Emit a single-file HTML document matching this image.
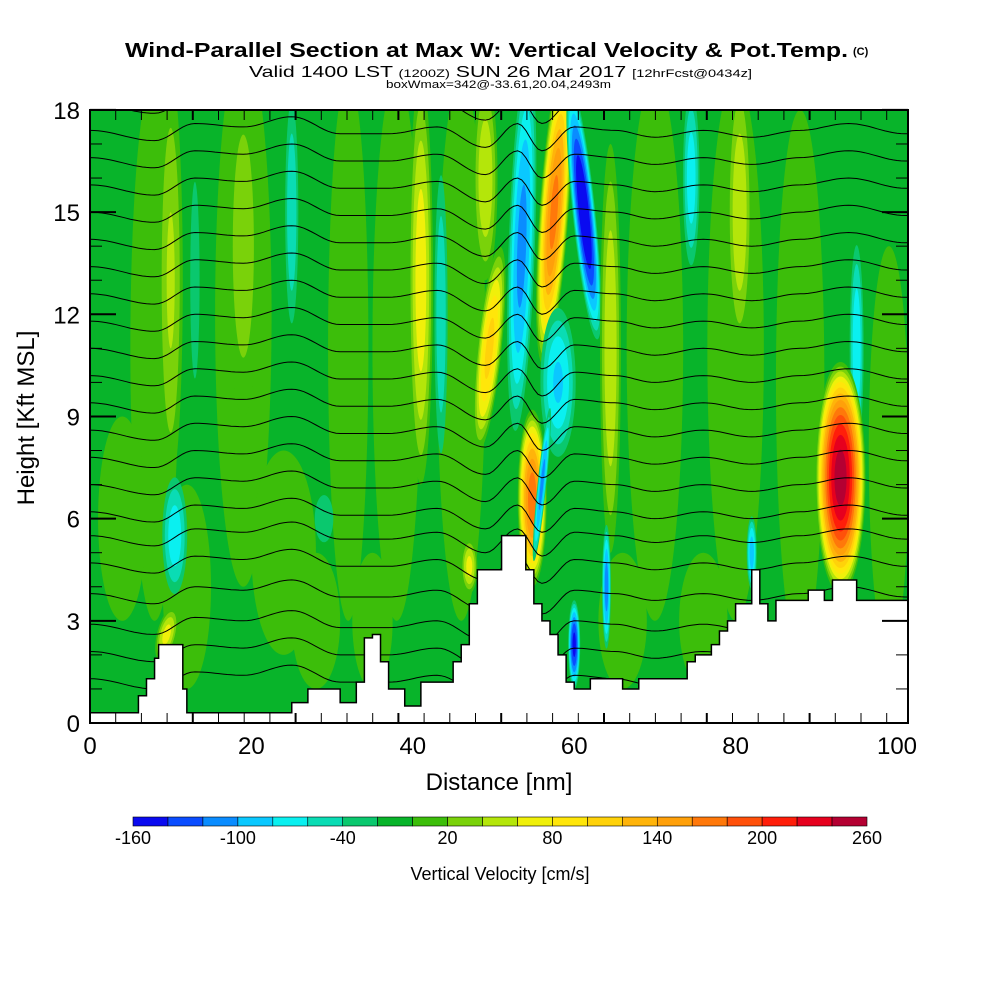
<!DOCTYPE html>
<html><head><meta charset="utf-8"><style>
html,body{margin:0;padding:0;background:#fff;}
svg{display:block;font-family:"Liberation Sans",sans-serif;}
</style></head><body>
<svg id="chart" width="1000" height="1000" viewBox="0 0 1000 1000">
<rect width="1000" height="1000" fill="#fff"/>
<text x="125" y="57" font-size="20" font-weight="bold" textLength="723" lengthAdjust="spacingAndGlyphs">Wind-Parallel Section at Max W: Vertical Velocity &amp; Pot.Temp.</text>
<text x="853" y="55" font-size="11" font-weight="bold">(C)</text>
<text x="249" y="77" font-size="16" textLength="503" lengthAdjust="spacingAndGlyphs">Valid 1400 LST <tspan font-size="11">(1200Z)</tspan> SUN 26 Mar 2017 <tspan font-size="11">[12hrFcst@0434z]</tspan></text>
<text x="386" y="88" font-size="11" textLength="225" lengthAdjust="spacingAndGlyphs">boxWmax=342@-33.61,20.04,2493m</text>
<defs><clipPath id="plotclip"><rect x="90" y="110" width="818" height="613"/></clipPath></defs>
<g id="field" clip-path="url(#plotclip)"></g>
<g id="contours" clip-path="url(#plotclip)"></g>
<g id="terrain" clip-path="url(#plotclip)"></g>
<g id="axes"></g>
<g id="colorbar"></g>
<text x="499" y="790" font-size="24" text-anchor="middle">Distance [nm]</text>
<text transform="translate(34,418) rotate(-90)" font-size="24" text-anchor="middle">Height [Kft MSL]</text>
<text x="500" y="880" font-size="18" text-anchor="middle">Vertical Velocity [cm/s]</text>
</svg>
<script>
// ---- data ----
const binLevels = [-160,-140,-120,-100,-80,-60,-40,-20,0,20,40,60,80,100,120,140,160,180,200,220,240,260];
const binColors = ["#0a0af0","#0a4cff","#0a8cff","#0ac8ff","#0af0f0","#0adcb4","#0ac86e","#08b42a","#3cbe0a","#7ad20a","#b4e60a","#f0f00a","#ffe60a","#ffd20a","#ffb40a","#ffa00a","#ff780a","#ff500a","#ff1e0a","#e6001e","#b40032"];
const colorbarLabels = [-160,-100,-40,20,80,140,200,260];
const xTicks = [0,20,40,60,80,100];
const yTicks = [0,3,6,9,12,15,18];
// features: centre x (nm), centre z (kft), half-width (nm), half-height (kft), peak (cm/s), tilt (deg)
const featX    = [8, 19, 32, 38, 46, 70, 80, 88, 99, 4, 24, 12, 28, 35, 66, 76, 10, 13, 19, 25, 41, 43.5, 49, 49.5, 53.5, 57.5, 61.2, 58, 64.5, 74.5, 80.5, 95, 93, 54.8, 56, 60, 64, 82, 10.5, 9.5, 47, 29];
const featZ    = [11, 12, 11, 11, 11, 11, 11, 10, 8, 6, 5, 4, 3, 3, 3, 3, 13, 13, 14, 15, 13, 12, 16, 11, 14, 15, 15, 10, 11, 16, 15, 11, 7.2, 6.6, 7, 2.3, 4, 5, 5.5, 2.6, 4.6, 6];
const featW    = [3, 3.5, 2.5, 3, 3, 3.5, 3.5, 3, 2.5, 3, 4, 3, 3, 2.5, 3, 3, 1.5, 1.0, 2.0, 1.0, 1.5, 1.0, 1.5, 1.5, 1.8, 1.8, 1.5, 2.5, 1.3, 1.2, 1.5, 1.0, 3.1, 1.8, 0.6, 0.8, 0.6, 0.7, 1.8, 1.2, 1.0, 2];
const featH    = [8, 8, 8, 8, 8, 8, 8, 8, 6, 3, 3, 3, 2, 2, 2, 2, 6, 5, 5, 4, 6, 5, 3, 3, 6, 4.5, 4, 2.5, 6, 3, 4, 3.5, 3.4, 2.6, 2.5, 1.4, 2, 1.2, 2, 0.8, 0.8, 1.2];
const featPeak = [18, 18, 18, 18, 18, 18, 18, 18, 18, 18, 18, 18, 18, 18, 18, 18, 45, -30, 35, -60, 75, -60, 60, 110, -110, 170, -170, -85, 60, -75, 60, -80, 255, 175, -110, -150, -115, -95, -75, 70, 70, -30];
const featTilt = [0, 0, 0, 0, 0, 0, 0, 0, 0, 0, 0, 0, 0, 0, 0, 0, 0, 0, 0, 0, 0, 0, 0, 6, 2, 4, -6, 0, 0, 0, 0, 0, 0, 0, 6, 0, 0, 0, 0, 14, 0, 0];
// terrain (nm, kft)
const terrX = [0,5,6,7,8,8.5,11,11.5,12,24,25,27,30,31,33,34,35,36,37,39,40,41,44,45,46,47,48,49,51,53,54,55,56,57,58,59,60,62,65,66,67,68,73,74,75,77,78,79,80,82,83,84,85,88,89,91,92,94,95,102];
const terrZ = [0.3,0.3,0.8,1.3,1.9,2.3,2.3,1.0,0.3,0.3,0.6,1.0,1.0,0.6,1.2,2.5,2.6,1.8,1.0,0.5,0.5,1.2,1.2,1.8,2.3,3.5,4.5,4.5,5.5,5.5,4.5,3.5,3.0,2.6,2.0,1.2,1.0,1.3,1.3,1.0,1.0,1.3,1.3,1.8,2.0,2.3,2.7,3.0,3.5,4.5,3.5,3.0,3.6,3.6,3.9,3.6,4.2,4.2,3.6,3.6];
// contour base heights (kft) and wiggle offsets at nodes
const contourBase = [1.2,2.0,2.8,3.7,4.6,5.4,6.1,6.9,7.7,8.5,9.3,10.1,10.9,11.7,12.5,13.3,14.1,14.9,15.7,16.5,17.3,18.1];
const wiggleX = [0,8,13,19,25,31,37,43,49,53,56,60,65,70,76,82,88,94,101];
const wiggleZ = [0.1,-0.2,0.3,0.2,0.5,0.0,0.0,0.2,-0.4,0.3,-0.5,0.2,0.1,-0.1,0.1,-0.1,0.1,0.3,0.0];

const NS = "http://www.w3.org/2000/svg";
function X(nm){return 90 + nm*8.07;}
function Y(k){return 723 - k*34.06;}
function mk(tag, attrs, parent){const e=document.createElementNS(NS,tag);for(const k in attrs)e.setAttribute(k,attrs[k]);parent.appendChild(e);return e;}
function colorFor(lo){const i=binLevels.indexOf(lo);return binColors[Math.max(0,Math.min(binColors.length-1,i))];}

const field=document.getElementById('field');
const bg=mk('rect',{x:90,y:110,width:818,height:613,fill:"#08b42a"},field);


for(let f=0;f<featX.length;f++){
  const g=mk('g',{transform:`rotate(${featTilt[f]} ${X(featX[f])} ${Y(featZ[f])})`},field);
  
  
  const p=featPeak[f];
  const levels=[];
  if(p>0){for(let L=0;L<p;L+=20)levels.push([L,L]);}
  else{for(let L=-20;L>p;L-=20)levels.push([L,L-20]);}
  for(const [L,lo] of levels){
    const s=Math.sqrt(Math.max(0,1-L/p));
    const e=mk('ellipse',{cx:X(featX[f]),cy:Y(featZ[f]),rx:featW[f]*8.07*s,ry:featH[f]*34.06*s,fill:colorFor(lo)},g);
    
    
  }
}
function wiggle(nm){
  for(let i=0;i<wiggleX.length-1;i++){
    if(nm>=wiggleX[i]&&nm<=wiggleX[i+1]){const t=(nm-wiggleX[i])/(wiggleX[i+1]-wiggleX[i]);const u=(1-Math.cos(Math.PI*t))/2;return wiggleZ[i]+(wiggleZ[i+1]-wiggleZ[i])*u;}
  }
  return 0;
}
const cg=document.getElementById('contours');
contourBase.forEach((h,j)=>{
  let d="";
  for(let nm=0;nm<=102;nm+=0.5){
    d+=(nm?"L":"M")+X(nm).toFixed(1)+","+Y(h+wiggle(nm)).toFixed(1);
  }
  const p=mk('path',{d:d,fill:"none",stroke:"#000","stroke-width":1},cg);
  
  
});
// terrain
let td="M"+X(terrX[0])+","+Y(terrZ[0]);
for(let i=1;i<terrX.length;i++){td+="L"+X(terrX[i])+","+Y(terrZ[i-1])+"L"+X(terrX[i])+","+Y(terrZ[i]);}
td+="L"+X(102)+",730L90,730Z";
const tp=mk('path',{d:td,fill:"#fff",stroke:"#000","stroke-width":1.5},document.getElementById('terrain'));


// axes
const ax=document.getElementById('axes');
const frame=mk('rect',{x:90,y:110,width:818,height:613,fill:"none",stroke:"#000","stroke-width":2},ax);


for(let k=0;k<=18;k++){
  const len=(k%3===0)?26:12;
  const t1=mk('line',{x1:90,x2:90+len,y1:Y(k),y2:Y(k),stroke:"#000","stroke-width":(k%3===0)?2:1},ax);
  
  
  const t2=mk('line',{x1:908,x2:908-len,y1:Y(k),y2:Y(k),stroke:"#000","stroke-width":(k%3===0)?2:1},ax);
  
  
}
for(let i=0;i*25.7<=818;i++){
  const x=90+i*25.7, len=10;
  const b=mk('line',{x1:x,x2:x,y1:723,y2:723-len,stroke:"#000","stroke-width":(i%4===0)?2:1},ax);
  
  
  const t=mk('line',{x1:x,x2:x,y1:110,y2:110+len,stroke:"#000","stroke-width":(i%4===0)?2:1},ax);
  
  
}
yTicks.forEach(v=>{
  const t=mk('text',{x:80,y:Y(v)+9,"font-size":24,"text-anchor":"end"},ax);
  
  
  t.textContent=v;
});
xTicks.forEach(v=>{
  const t=mk('text',{x:X(v),y:754,"font-size":24,"text-anchor":"middle"},ax);
  
  
  t.textContent=v;
});
// colorbar
const cb=document.getElementById('colorbar');
const cbx0=133,cbx1=867,bw=(cbx1-cbx0)/binColors.length;
binColors.forEach((c,i)=>{
  const r=mk('rect',{x:cbx0+i*bw,y:817,width:bw,height:9,fill:c,stroke:"#000","stroke-width":0.6},cb);
  
  
});
colorbarLabels.forEach(v=>{
  const x=cbx0+(v-binLevels[0])/(binLevels[binLevels.length-1]-binLevels[0])*(cbx1-cbx0);
  const t=mk('text',{x:x,y:844,"font-size":18,"text-anchor":"middle"},cb);
  
  
  t.textContent=v;
});
</script>
</body></html>
